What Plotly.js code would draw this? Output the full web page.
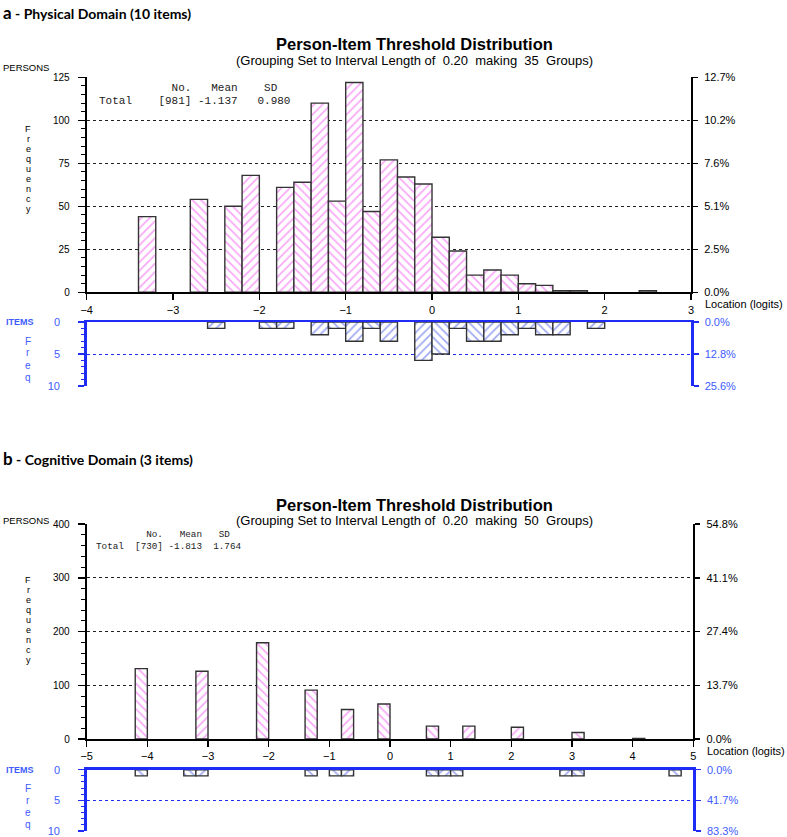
<!DOCTYPE html>
<html>
<head>
<meta charset="utf-8">
<script src="https://cdn.plot.ly/plotly-3.0.1.min.js"></script>
<style>html,body{margin:0;padding:0;background:#fff;}#chart{width:787px;height:837px;}</style>
</head>
<body>
<div id="chart"></div>
<script>
// ---------- DATA ----------
// Panel a: Physical Domain (10 items), bins of 0.20 logits (bin centres)
const personsA_loc = [-3.3,-2.7,-2.3,-2.1,-1.7,-1.5,-1.3,-1.1,-0.9,-0.7,-0.5,-0.3,-0.1,0.1,0.3,0.5,0.7,0.9,1.1,1.3,1.5,1.7,2.5];
const personsA_n   = [44,54,50,68,61,64,110,53,122,47,77,67,63,32,24,10,13,10,5,4,1,1,1];
const itemsA_loc   = [-2.5,-1.9,-1.7,-1.3,-1.1,-0.9,-0.7,-0.5,-0.1,0.1,0.3,0.5,0.7,0.9,1.1,1.3,1.5,1.9];
const itemsA_n     = [1,1,1,2,1,3,1,3,6,5,1,3,3,2,1,2,2,1];
const xTicksA      = [-4,-3,-2,-1,0,1,2,3];
const yTicksA      = [0,25,50,75,100,125];
const statsHeadA   = "           No.   Mean    SD";
const statsRowA    = "Total    [981] -1.137   0.980";
const headerA      = "Physical Domain (10 items)";
const subtitleA    = "(Grouping Set to Interval Length of  0.20  making  35  Groups)";

// Panel b: Cognitive Domain (3 items)
const personsB_loc = [-4.1,-3.1,-2.1,-1.3,-0.7,-0.1,0.7,1.3,2.1,3.1,4.1];
const personsB_n   = [131,126,179,91,55,65,24,24,22,12,1];
const itemsB_loc   = [-4.1,-3.3,-3.1,-1.3,-0.9,-0.7,0.7,0.9,1.1,2.9,3.1,4.7];
const itemsB_n     = [1,1,1,1,1,1,1,1,1,1,1,1];
const xTicksB      = [-5,-4,-3,-2,-1,0,1,2,3,4,5];
const yTicksB      = [0,100,200,300,400];
const statsHeadB   = "         No.   Mean   SD";
const statsRowB    = "Total  [730] -1.813  1.764";
const headerB      = "Cognitive Domain (3 items)";
const subtitleB    = "(Grouping Set to Interval Length of  0.20  making  50  Groups)";

const itemTicks    = [0,5,10];
const mainTitle    = "Person-Item Threshold Distribution";

// ---------- HELPERS ----------
const W = 787, H = 837;
const px = v => v / W;
const py = v => 1 - v / H;
const nb = s => s.replace(/ /g, "\u00A0");
const sum = a => a.reduce((s, v) => s + v, 0);
const pct = (ticks, total) => ticks.map(t => (t / total * 100).toFixed(1) + "%");
const shapes = (locs, xmin) => locs.map(c => (Math.round((c - xmin) / 0.2 - 0.5) % 2 === 1) ? "/" : "\\");

const PINK = "#f04ef0";
const BLUE = "#3f52e6";
const AXBLUE = "#1f2cf5";
const LBLUE = "#3e5cff";
const FONT = "Liberation Sans, Arial, sans-serif";
const MONO = "Liberation Mono, Courier New, monospace";

function barTrace(locs, counts, xmin, xa, ya, fg) {
  return {
    type: "bar", x: locs, y: counts, xaxis: xa, yaxis: ya, width: 0.2,
    marker: {
      color: "white",
      line: { color: "#333", width: 1.4 },
      pattern: { shape: shapes(locs, xmin), fgcolor: fg, bgcolor: "white", size: 6, solidity: 0.28, fillmode: "overlay" }
    },
    hoverinfo: "skip", showlegend: false
  };
}
function dummy(xa, ya) {
  return { type: "scatter", mode: "markers", x: [null], y: [null], xaxis: xa, yaxis: ya, hoverinfo: "skip", showlegend: false };
}

// geometry (pixels) + text offsets for each panel
const A = { x0: 86.7, x1: 691, top: 77.3, base: 292.3, itTop: 322, itBot: 386,
            hdrY: 12, titleY: 44, subY: 60, persY: 67, statY: [88, 100.7], statX: 98, mono: 11, freqY: 129 };
const B = { x0: 86.7, x1: 693.3, top: 524, base: 739, itTop: 769.7, itBot: 831,
            hdrY: 458, titleY: 505, subY: 520, persY: 520, statY: [534, 546.5], statX: 95, mono: 9.3, freqY: 580 };

const totA = sum(personsA_n), totIA = sum(itemsA_n);
const totB = sum(personsB_n), totIB = sum(itemsB_n);

function personsX(g, range, ticks, anchor) {
  return {
    domain: [px(g.x0), px(g.x1)], range: range, anchor: anchor,
    tickvals: ticks, ticks: "outside", ticklen: 6, tickwidth: 1.5, tickcolor: "black",
    showline: true, linecolor: "black", linewidth: 2, showgrid: false, zeroline: false,
    tickfont: { size: 11, color: "black", family: FONT }, fixedrange: true
  };
}
function personsY(g, range, ticks, minorD, anchor) {
  return {
    domain: [py(g.base), py(g.top)], range: range, anchor: anchor,
    tickvals: ticks, ticks: "outside", ticklen: 7, tickwidth: 1.5, tickcolor: "black",
    minor: { dtick: minorD, ticks: "outside", ticklen: 4, tickcolor: "black", tickwidth: 1, showgrid: false },
    showline: true, linecolor: "black", linewidth: 2,
    showgrid: true, gridcolor: "#222", griddash: "dot", gridwidth: 1, zeroline: false,
    tickfont: { size: 10, color: "black", family: FONT }, ticklabelstandoff: 6, fixedrange: true
  };
}
function personsYR(range, ticks, total, over, anchor) {
  return {
    overlaying: over, side: "right", anchor: anchor, range: range,
    tickvals: ticks, ticktext: pct(ticks, total), ticks: "outside", ticklen: 5, tickwidth: 1.5, tickcolor: "black",
    showline: true, linecolor: "black", linewidth: 2, showgrid: false, zeroline: false,
    tickfont: { size: 11, color: "black", family: FONT }, ticklabelstandoff: 4, fixedrange: true
  };
}
function itemsX(g, range, anchor) {
  return {
    domain: [px(g.x0), px(g.x1)], range: range, anchor: anchor, side: "top",
    showline: true, linecolor: AXBLUE, linewidth: 2.5, ticks: "", showticklabels: false,
    showgrid: false, zeroline: false, fixedrange: true
  };
}
function itemsY(g, anchor) {
  return {
    domain: [py(g.itBot), py(g.itTop)], range: [10, 0], anchor: anchor,
    tickvals: itemTicks, ticks: "outside", ticklen: 6, tickwidth: 1.5, tickcolor: AXBLUE,
    minor: { dtick: 1, ticks: "outside", ticklen: 3, tickcolor: AXBLUE, tickwidth: 1, showgrid: false },
    showline: true, linecolor: AXBLUE, linewidth: 2.5,
    showgrid: true, gridcolor: AXBLUE, griddash: "dot", gridwidth: 1, zeroline: false,
    tickfont: { size: 11, color: LBLUE, family: FONT }, ticklabelstandoff: 16, fixedrange: true
  };
}
function itemsYR(total, over, anchor) {
  return {
    overlaying: over, side: "right", anchor: anchor, range: [10, 0],
    tickvals: itemTicks, ticktext: pct(itemTicks, total), ticks: "outside", ticklen: 5, tickwidth: 1.5, tickcolor: AXBLUE,
    showline: true, linecolor: AXBLUE, linewidth: 2.5, showgrid: false, zeroline: false,
    tickfont: { size: 11, color: LBLUE, family: FONT }, ticklabelstandoff: 4, fixedrange: true
  };
}

const data = [
  barTrace(personsA_loc, personsA_n, -4, "x", "y", PINK),
  dummy("x", "y2"),
  barTrace(itemsA_loc, itemsA_n, -4, "x2", "y3", BLUE),
  dummy("x2", "y4"),
  barTrace(personsB_loc, personsB_n, -5, "x3", "y5", PINK),
  dummy("x3", "y6"),
  barTrace(itemsB_loc, itemsB_n, -5, "x4", "y7", BLUE),
  dummy("x4", "y8")
];

// ---------- ANNOTATIONS ----------
const ann = [];
function txt(x, y, text, opts) {
  ann.push(Object.assign({
    xref: "paper", yref: "paper", x: px(x), y: py(y), text: text, showarrow: false, borderpad: 0,
    xanchor: "left", yanchor: "middle", font: { family: FONT, size: 11, color: "black" }
  }, opts || {}));
}
function column(x, yStart, step, word, color, size) {
  word.split("").forEach((ch, i) => txt(x, yStart + i * step, ch, { xanchor: "center", font: { family: FONT, size: size, color: color } }));
}
function panelText(g, letter, header, subtitle, headS, rowS) {
  txt(2, g.hdrY, '<b><span style="font-size:17px">' + letter + '</span> - ' + header + '</b>',
      { font: { family: "Lato, Open Sans, sans-serif", size: 14, color: "black" } });
  txt(414, g.titleY, "<b>" + mainTitle + "</b>", { xanchor: "center", font: { family: FONT, size: 16.5, color: "black" } });
  txt(414, g.subY, nb(subtitle), { xanchor: "center", font: { family: FONT, size: 13, color: "black" } });
  txt(2, g.persY, "PERSONS", { font: { family: FONT, size: 9.5, color: "black" } });
  txt(g.statX, g.statY[0], nb(headS), { font: { family: MONO, size: g.mono, color: "#222" } });
  txt(g.statX, g.statY[1], nb(rowS), { font: { family: MONO, size: g.mono, color: "#222" } });
  txt(g.x1 + 13, g.base + 12, "Location (logits)", { font: { family: FONT, size: 11, color: "black" } });
  column(28, g.freqY, 10, "Frequency", "black", 9);
  txt(5, g.itTop, "<b>ITEMS</b>", { font: { family: FONT, size: 9, color: LBLUE } });
  column(28, g.itTop + 19, 12, "Freq", LBLUE, 10);
}
panelText(A, "a", headerA, subtitleA, statsHeadA, statsRowA);
panelText(B, "b", headerB, subtitleB, statsHeadB, statsRowB);

const layout = {
  width: W, height: H, margin: { l: 0, r: 0, t: 0, b: 0 },
  paper_bgcolor: "white", plot_bgcolor: "white", showlegend: false, hovermode: false,
  barmode: "overlay", font: { family: FONT, size: 11, color: "black" },
  xaxis: personsX(A, [-4, 3], xTicksA, "y"),
  yaxis: personsY(A, [0, 125], yTicksA, 5, "x"),
  yaxis2: personsYR([0, 125], yTicksA, totA, "y", "x"),
  xaxis2: itemsX(A, [-4, 3], "y3"),
  yaxis3: itemsY(A, "x2"),
  yaxis4: itemsYR(totIA, "y3", "x2"),
  xaxis3: personsX(B, [-5, 5], xTicksB, "y5"),
  yaxis5: personsY(B, [0, 400], yTicksB, 20, "x3"),
  yaxis6: personsYR([0, 400], yTicksB, totB, "y5", "x3"),
  xaxis4: itemsX(B, [-5, 5], "y7"),
  yaxis7: itemsY(B, "x4"),
  yaxis8: itemsYR(totIB, "y7", "x4"),
  annotations: ann
};

Plotly.newPlot("chart", data, layout, { staticPlot: true, displayModeBar: false });
</script>
</body>
</html>
